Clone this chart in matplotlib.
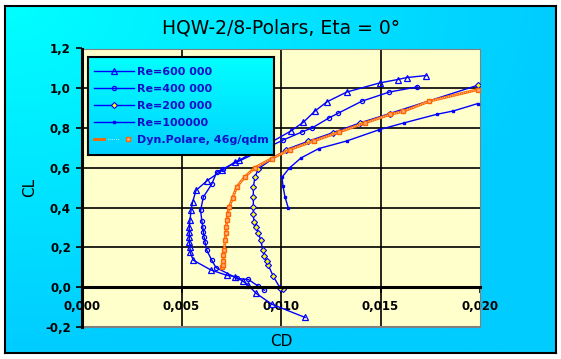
import numpy as np
import matplotlib
matplotlib.use('Agg')
import matplotlib.pyplot as plt
from matplotlib.legend_handler import HandlerTuple
from matplotlib.ticker import FuncFormatter, MultipleLocator

# ---------------------------------------------------------------------------
# polars (CD, CL)

cd_600 = [0.01121, 0.00953, 0.00874, 0.00836, 0.00809, 0.00771, 0.00727, 0.00647,
          0.00559, 0.00543, 0.00543, 0.00539, 0.00539, 0.00539, 0.00539, 0.00543,
          0.00548, 0.00556, 0.00573, 0.00628, 0.00705, 0.00769, 0.00790, 0.01049,
          0.01112, 0.01171, 0.01231, 0.01330, 0.01496, 0.01586, 0.01632, 0.01729]
cl_600 = [-0.152, -0.085, -0.030, 0.010, 0.030, 0.053, 0.060, 0.087,
          0.136, 0.177, 0.203, 0.228, 0.253, 0.278, 0.303, 0.340,
          0.387, 0.429, 0.487, 0.535, 0.588, 0.630, 0.638, 0.785,
          0.829, 0.886, 0.932, 0.981, 1.027, 1.044, 1.054, 1.064]

cd_400 = [0.00916, 0.00886, 0.00836, 0.00780, 0.00673, 0.00652, 0.00627, 0.00618,
          0.00613, 0.00610, 0.00607, 0.00602, 0.00596, 0.00610, 0.00652, 0.00677,
          0.00710, 0.01009, 0.01104, 0.01157, 0.01243, 0.01286, 0.01406, 0.01544,
          0.01685]
cl_400 = [-0.015, 0.005, 0.039, 0.044, 0.099, 0.136, 0.186, 0.228,
          0.253, 0.278, 0.303, 0.334, 0.387, 0.454, 0.518, 0.579,
          0.596, 0.739, 0.780, 0.801, 0.852, 0.874, 0.935, 0.981,
          1.007]

cd_200 = [0.01010, 0.00995, 0.00961, 0.00936, 0.00928, 0.00917, 0.00908, 0.00899,
          0.00886, 0.00874, 0.00864, 0.00861, 0.00861, 0.00861, 0.00861, 0.00869,
          0.00886, 0.01025, 0.01137, 0.01261, 0.01397, 0.01546, 0.01988]
cl_200 = [-0.010, -0.003, 0.055, 0.111, 0.132, 0.158, 0.186, 0.236,
          0.271, 0.303, 0.328, 0.367, 0.402, 0.452, 0.503, 0.553,
          0.596, 0.692, 0.734, 0.777, 0.826, 0.873, 1.015]

cd_100 = [0.01037, 0.01020, 0.01010, 0.01005, 0.01043, 0.01101, 0.01190, 0.01330,
          0.01494, 0.01618, 0.01782, 0.01866, 0.01988]
cl_100 = [0.397, 0.454, 0.508, 0.553, 0.600, 0.650, 0.697, 0.735,
          0.792, 0.826, 0.869, 0.886, 0.923]

cd_dyn = [0.00702, 0.00707, 0.00710, 0.00710, 0.00715, 0.00719, 0.00723, 0.00725,
          0.00729, 0.00732, 0.00739, 0.00757, 0.00777, 0.00817, 0.00869, 0.00953,
          0.01045, 0.01164, 0.01293, 0.01422, 0.01550, 0.01615, 0.01745, 0.01988]
cl_dyn = [0.102, 0.114, 0.134, 0.164, 0.189, 0.236, 0.273, 0.303,
          0.337, 0.369, 0.401, 0.449, 0.503, 0.554, 0.601, 0.647,
          0.692, 0.735, 0.780, 0.826, 0.869, 0.884, 0.935, 0.993]

labels = ['Re=600 000', 'Re=400 000', 'Re=200 000', 'Re=100000',
          'Dyn.Polare, 46g/qdm']

# ---------------------------------------------------------------------------
W, H = 561, 359
fig = plt.figure(figsize=(W / 100, H / 100), dpi=100)
fig.patch.set_facecolor('white')

# gradient background with black frame
bg = fig.add_axes([5 / W, 6 / H, 551 / W, 347 / H])
yy, xx = np.mgrid[0:1:120j, 0:1:200j]
t = np.clip(np.hypot(xx, yy), 0, 1)
img = np.zeros((120, 200, 3))
img[..., 1] = 1.0 - 0.2 * t
img[..., 2] = 1.0
bg.imshow(img, aspect='auto')
bg.set_xticks([])
bg.set_yticks([])
for s in bg.spines.values():
    s.set_linewidth(1.5)
    s.set_color('black')

# plot area
ax = fig.add_axes([82 / W, 32 / H, 398 / W, 278.5 / H])
ax.set_facecolor('#FFFFCC')
ax.set_xlim(0.0, 0.02)
ax.set_ylim(-0.2, 1.2)
ax.xaxis.set_major_locator(MultipleLocator(0.005))
ax.yaxis.set_major_locator(MultipleLocator(0.2))
ax.xaxis.set_major_formatter(FuncFormatter(lambda v, p: ('%.3f' % v).replace('.', ',')))
ax.yaxis.set_major_formatter(FuncFormatter(lambda v, p: ('%.1f' % (v + 0.0)).replace('.', ',').replace('-0,0', '0,0')))

for v in [0.005, 0.010, 0.015]:
    ax.axvline(v, color='black', lw=1.2, zorder=1)
for v in [0.2, 0.4, 0.6, 0.8, 1.0]:
    ax.axhline(v, color='black', lw=1.2, zorder=1)

ax.spines['top'].set_color('#808080')
ax.spines['right'].set_color('#808080')
ax.spines['left'].set_linewidth(2.2)
ax.spines['left'].set_zorder(5)
ax.spines['bottom'].set_position(('data', 0.0))
ax.spines['bottom'].set_linewidth(2.2)
ax.spines['bottom'].set_zorder(5)
ax.axhline(-0.2, color='#808080', lw=1.5, zorder=5, clip_on=False)

ax.tick_params(axis='x', direction='out', length=4, width=1.2, pad=5, labelsize=8.5)
ax.tick_params(axis='y', direction='out', length=4, width=1.2, pad=4, labelsize=8.5)
for l in ax.get_xticklabels() + ax.get_yticklabels():
    l.set_fontweight('bold')

blue = '#0000FF'
h600, = ax.plot(cd_600, cl_600, '-', color=blue, lw=1, marker='^', ms=4,
                mfc='none', mec=blue, mew=0.9, zorder=3)
h400, = ax.plot(cd_400, cl_400, '-', color=blue, lw=1, marker='o', ms=3,
                mfc='none', mec=blue, mew=0.9, zorder=3)
h200, = ax.plot(cd_200, cl_200, '-', color=blue, lw=1, marker='D', ms=3.1,
                mfc='#FFFF00', mec=blue, mew=0.8, zorder=3)
h100, = ax.plot(cd_100, cl_100, '-', color=blue, lw=1, marker='s', ms=1.6,
                mfc=blue, mec=blue, zorder=3)
hd1, = ax.plot(cd_dyn, cl_dyn, '-', color='#FF6600', lw=2.0, zorder=3)
hd2, = ax.plot(cd_dyn, cl_dyn, color='white', lw=0.7, dashes=(0.7, 1.3), zorder=3)
hd3, = ax.plot(cd_dyn, cl_dyn, ls='none', marker='s', ms=3.4, mfc='#FFB080',
               mec='#FF6600', mew=1.0, zorder=4)

# axis texts
fig.text(0.5, 1 - 28 / H, 'HQW-2/8-Polars, Eta = 0°', ha='center', va='center',
         fontsize=13.5)
fig.text(30 / W, 1 - 187 / H, 'CL', rotation=90, ha='center', va='center', fontsize=11)
fig.text(281 / W, 1 - 342 / H, 'CD', ha='center', va='center', fontsize=11)

# legend box with gradient
lax = fig.add_axes([88 / W, (H - 155) / H, 186 / W, 98 / H])
gy = np.linspace(0, 1, 80)[:, None] * np.ones((1, 10))
limg = np.zeros((80, 10, 3))
limg[..., 1] = 1.0 - 0.18 * gy
limg[..., 2] = 1.0
lax.imshow(limg, aspect='auto')
lax.set_xticks([])
lax.set_yticks([])
for s in lax.spines.values():
    s.set_linewidth(1.5)
    s.set_color('black')
lax.legend([h600, h400, h200, h100, (hd1, hd2, hd3)], labels,
           handler_map={tuple: HandlerTuple(ndivide=None)},
           loc='center left', frameon=False, prop={'size': 8, 'weight': 'bold'},
           labelcolor='#1010C8', handlelength=3.6, handletextpad=0.3,
           labelspacing=0.62, borderaxespad=0.1)

fig.savefig('out.png', dpi=100)
plt.close(fig)
